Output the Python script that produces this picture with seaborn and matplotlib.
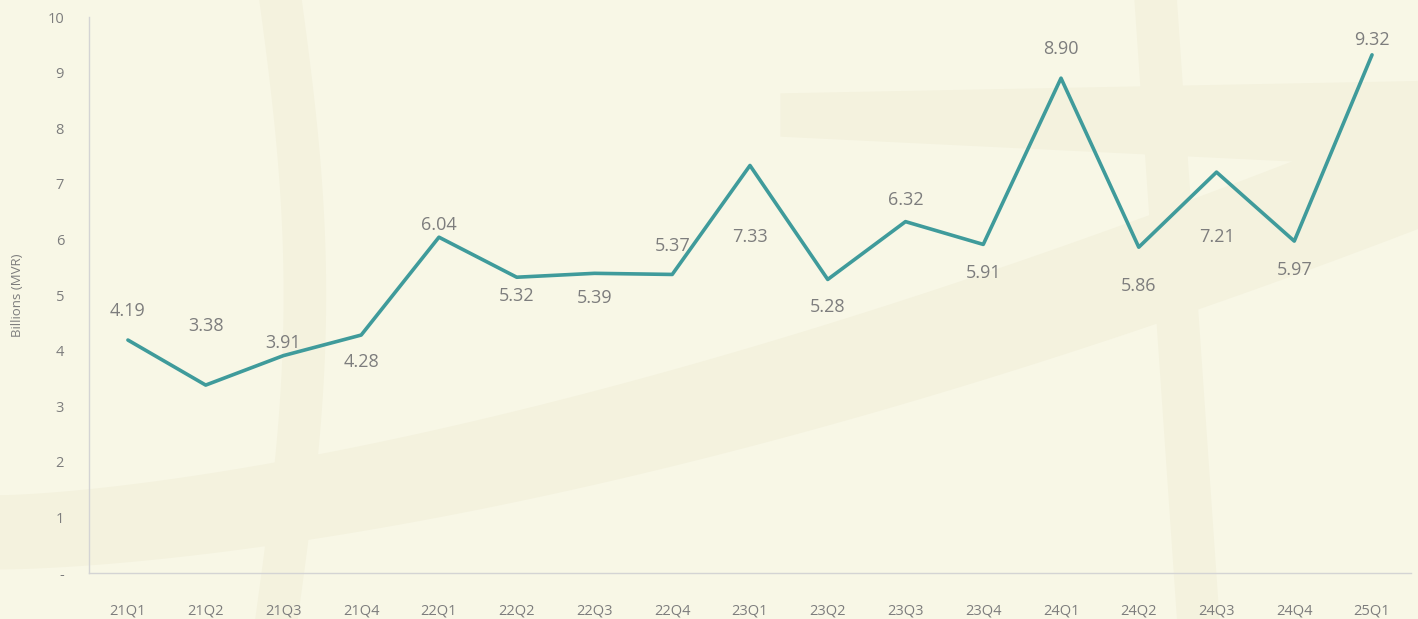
import numpy as np
import pandas as pd
import matplotlib
matplotlib.use("Agg")
import matplotlib.pyplot as plt
import seaborn as sns

quarters = ["21Q1", "21Q2", "21Q3", "21Q4", "22Q1", "22Q2", "22Q3", "22Q4",
            "23Q1", "23Q2", "23Q3", "23Q4", "24Q1", "24Q2", "24Q3", "24Q4", "25Q1"]
values = [4.19, 3.38, 3.91, 4.28, 6.04, 5.32, 5.39, 5.37,
          7.33, 5.28, 6.32, 5.91, 8.90, 5.86, 7.21, 5.97, 9.32]
# vertical offset (pixels) of each value label from its point, negative = above
label_dy = [29, 59, 13, -27, 12, -19, -25, 28, -72, -28, 22, -29, 29, -39, -65, -29, 15]

BG = "#f8f7e6"
BAND = "#f4f2de"
LINE = "#3f9b9b"
TEXT = "#7d7d7d"
AXIS = "#d4d4d4"

sns.set_style("white")
plt.rcParams["font.family"] = ["Open Sans", "DejaVu Sans"]

df = pd.DataFrame({"quarter": quarters, "value": values})

fig = plt.figure(figsize=(14.18, 6.19), dpi=100, facecolor=BG)

# faint decorative background bands
bg = fig.add_axes([0, 0, 1, 1], zorder=0)
bg.set_xlim(0, 1)
bg.set_ylim(0, 1)
bg.axis("off")
t = np.linspace(0, 1, 200)
bg.fill_between(t, 0.08 + 0.55 * t ** 1.6, 0.2 + 0.62 * t ** 1.5, color=BAND, lw=0)
bg.fill_between(0.55 + 0.45 * t, 0.85 + 0.02 * t, 0.78 - 0.05 * t, color=BAND, lw=0)
bg.fill_betweenx(t, 0.18 + 0.02 * np.sin(t * 3), 0.21 + 0.02 * np.sin(t * 3), color=BAND, lw=0)
bg.fill_betweenx(t, 0.83 - 0.03 * t, 0.86 - 0.03 * t, color=BAND, lw=0)

ax = fig.add_axes([0.0628, 0.0743, 0.9322, 0.8982], zorder=1)
ax.patch.set_alpha(0)

sns.lineplot(data=df, x="quarter", y="value", color=LINE, linewidth=2.6,
             sort=False, ax=ax)

for i, (v, dy) in enumerate(zip(values, label_dy)):
    ax.annotate(f"{v:.2f}", (i, v), xytext=(0, dy), textcoords="offset pixels",
                ha="center", va="center", fontsize=13, color=TEXT)

ax.set_xlim(-0.5, len(quarters) - 0.5)
ax.set_ylim(0, 10)
ax.set_yticks(range(0, 11))
ax.set_yticklabels(["-"] + [str(k) for k in range(1, 11)])

ax.set_xticks(range(len(quarters)))
ax.set_xticklabels(quarters)
ax.set_xticks(np.arange(-0.5, len(quarters), 1.0), minor=True)
ax.tick_params(axis="x", which="major", length=0, pad=22, labelsize=10.5, colors=TEXT)
ax.tick_params(axis="x", which="minor", length=6, width=1, color=AXIS, direction="out")
ax.tick_params(axis="y", length=6, width=1, color=AXIS, pad=12, labelsize=10.5,
               labelcolor=TEXT)

for side in ["top", "right"]:
    ax.spines[side].set_visible(False)
for side in ["left", "bottom"]:
    ax.spines[side].set_color(AXIS)
    ax.spines[side].set_linewidth(1)

ax.set_xlabel("")
ax.set_ylabel("Billions (MVR)", fontsize=9.5, color=TEXT, labelpad=17)
ax.grid(False)

fig.savefig("out.png", dpi=100, facecolor=BG)
